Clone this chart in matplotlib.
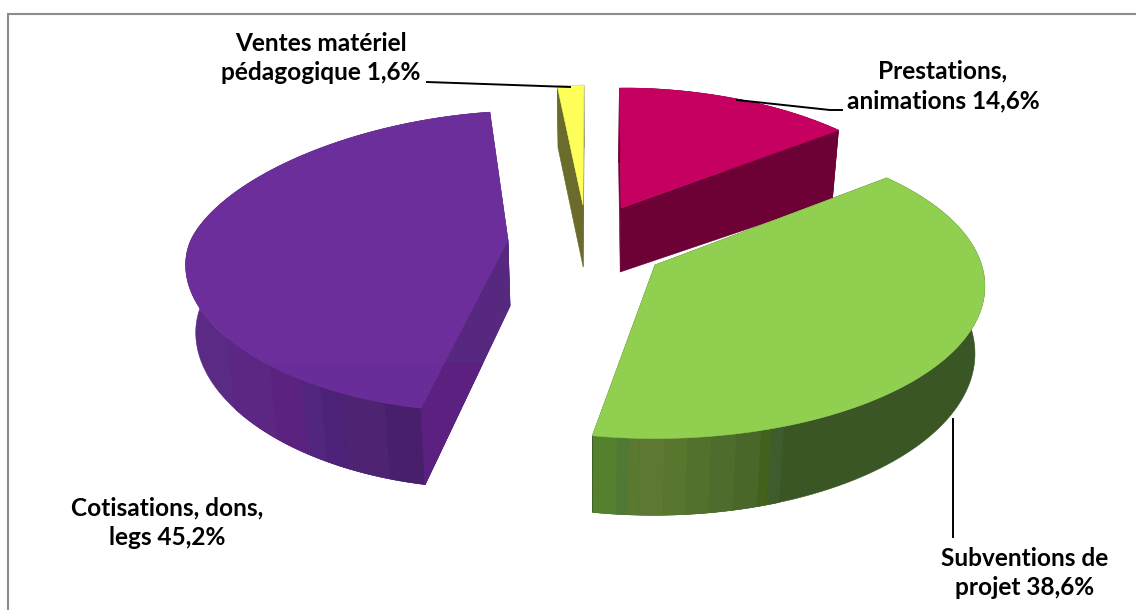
import numpy as np
import matplotlib
matplotlib.use("Agg")
import matplotlib.pyplot as plt
from matplotlib.patches import Polygon, Rectangle

# --- data ---
names = ["Prestations,\nanimations", "Subventions de\nprojet", "Cotisations, dons,\nlegs", "Ventes matériel\npédagogique"]
shares = [14.6, 38.6, 45.2, 1.6]
value_labels = ["14,6%", "38,6%", "45,2%", "1,6%"]

# --- style / projection ---
START = 92.0
RX, RY, P, VX, SHRINK = 325.0, 147.0, 0.14, 590.0, 0.975
slices = [
    dict(apex=(621, 208), scale=0.93, sx=1.01, shear=0.05, depth=64, pd=-0.14, e=1.06, cx=0, top="#C60060", wall="#6D0034"),
    dict(apex=(655, 265), scale=1.015, sx=0.99, shear=0.00, depth=66, pd=P, e=1.0, cx=0, top="#91CF50", wall="#3A5624"),
    dict(apex=(508, 240), scale=1.00, sx=0.951, shear=0.165, depth=66, pd=P, e=1.08, cx=-8, top="#6C2E9B", wall="#5A2A85"),
    dict(apex=(583, 205), scale=0.93, sx=1.00, shear=0.085, depth=62, pd=0.0, e=1.0, cx=0, top="#FFFF5A", wall="#6B6B2C"),
]
green_strips = [(-99.4, "#55802E"), (-95.7, "#4F7A36"), (-94.0, "#5A7A32"), (-92.3, "#5C7832"),
                (-88.5, "#59762E"), (-85.0, "#53702C"), (-81.4, "#4E6C2C"), (-77.5, "#4A672A"),
                (-73.6, "#44611C"), (-72.0, "#3F5C2C"), (-70.0, "#3A5624")]
purple_strips = [(-99.4, "#481F6B"), (-106, "#4E2472"), (-113.5, "#4C2178"), (-118, "#52267E"),
                 (-122, "#5B2280"), (-129, "#5C2683"), (-141, "#5A2A85")]
strip_sets = {1: green_strips, 2: purple_strips}
PURPLE_FACE_UP, PURPLE_FACE_LOW, PURPLE_BAND = "#57287F", "#5B2080", "#682D99"
BAND_Y = 363


def proj(theta, sl, r=1.0, bottom=False):
    t = np.radians(theta)
    s0, c0 = np.sin(t), np.cos(t)
    s = np.sign(s0) * np.abs(s0) ** sl["e"] * r
    c = np.sign(c0) * np.abs(c0) ** sl["e"] * r
    w = 1 + P * s
    ax_, ay_ = sl["apex"]
    x = RX * c / w * sl["scale"] * sl["sx"] + sl["cx"] * r
    y = -RY * s / w * sl["scale"]
    X = ax_ + x - sl["shear"] * y
    Y = ay_ + y
    if bottom:
        Y = Y + sl["depth"] / (1 + sl["pd"] * s)
        X = VX + (X - VX) * SHRINK
    return np.column_stack([np.atleast_1d(X), np.atleast_1d(Y)])


fig = plt.figure(figsize=(11.36, 6.10), dpi=100)
ax = fig.add_axes([0, 0, 1, 1])
ax.set_xlim(0, 1136)
ax.set_ylim(610, 0)
ax.axis("off")


def poly(pts, color, z):
    p = Polygon(pts, closed=True, facecolor=color, edgecolor=color, lw=0.4, zorder=z)
    ax.add_patch(p)
    return p


def wall(a, b, sl, color, z):
    th = np.linspace(a, b, max(4, int(abs(b - a) * 2)))
    poly(np.vstack([proj(th, sl), proj(th[::-1], sl, bottom=True)]), color, z)


def at_y(p0, p1, y):
    f = (y - p0[0, 1]) / (p1[0, 1] - p0[0, 1])
    return p0 + f * (p1 - p0)


# angles from values, clockwise
edges = START - np.cumsum([0] + [v * 3.6 for v in shares])
draw_order = [3, 0, 2, 1]
for n, i in enumerate(draw_order):
    sl = slices[i]
    a, b = edges[i], edges[i + 1]
    base = 10 * (n + 1)
    # radial faces
    for th in (a, b):
        rim_t, rim_b = proj(th, sl), proj(th, sl, bottom=True)
        ap_t, ap_b = proj(th, sl, r=0), proj(th, sl, r=0, bottom=True)
        poly(np.vstack([ap_t, rim_t, rim_b, ap_b]), sl["wall"], base)
    # outer wall
    wall(a, b, sl, sl["wall"], base + 1)
    if i in strip_sets:
        st = strip_sets[i]
        for (t0, col), (t1, _) in zip(st[:-1], st[1:]):
            wall(t0, t1, sl, col, base + 2)
    # top face
    th = np.linspace(a, b, 200)
    top_pts = np.vstack([proj(a, sl, r=0), proj(th, sl)])
    if i == 2:
        # front cut face of the purple slice, two tones
        rim_t, rim_b = proj(a, sl), proj(a, sl, bottom=True)
        ap_t, ap_b = proj(a, sl, r=0), proj(a, sl, r=0, bottom=True)
        poly(np.vstack([ap_t, rim_t, rim_b, ap_b]), PURPLE_FACE_UP, base + 2)
        poly(np.vstack([at_y(ap_t, rim_t, BAND_Y), rim_t, rim_b, at_y(ap_b, rim_b, BAND_Y)]),
             PURPLE_FACE_LOW, base + 2)
        poly(top_pts, sl["top"], base + 3)
        band = poly(top_pts, PURPLE_BAND, base + 3.5)
        band.set_clip_path(Rectangle((0, BAND_Y), 1136, 250, transform=ax.transData))
    else:
        poly(top_pts, sl["top"], base + 3)

# frame
ax.plot([8, 8, 1136], [610, 14, 14], color="#8C8C8C", lw=1.5, zorder=1, solid_joinstyle="miter")

# leaders
ax.plot([427, 570], [82, 87], color="black", lw=1.4, zorder=60)
ax.plot([737, 830, 842], [100, 110, 110], color="black", lw=1.4, zorder=60)
ax.plot([953, 953], [419, 537], color="black", lw=1.4, zorder=60)

# labels
label_pos = [(943, 86), (1025, 573), (167, 523), (321, 58)]
for nm, val, (lx, ly) in zip(names, value_labels, label_pos):
    ax.text(lx, ly, f"{nm} {val}", ha="center", va="center", family="Lato", weight="bold",
            fontsize=17.6, linespacing=1.35, color="black", zorder=70)

fig.savefig("out.png", dpi=100)
